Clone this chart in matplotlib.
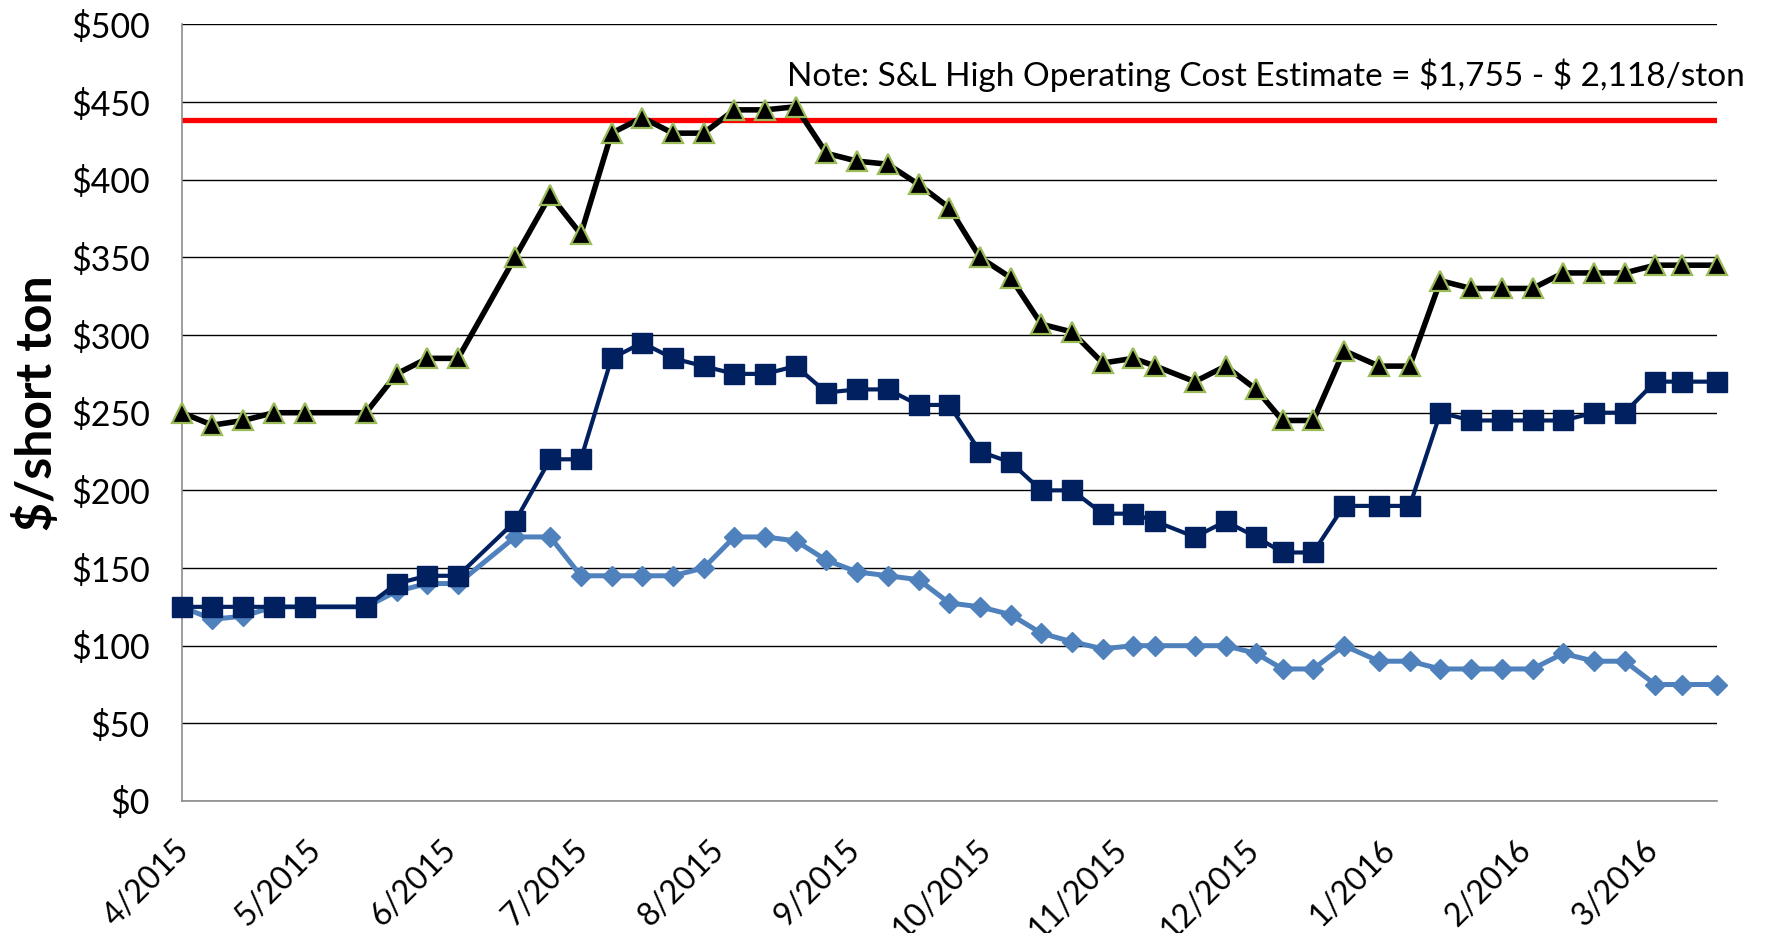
import matplotlib
matplotlib.use("Agg")
import matplotlib.pyplot as plt
import matplotlib.dates as mdates
from matplotlib.transforms import ScaledTranslation
import numpy as np

# ---- data -------------------------------------------------------------
dates = ["2015-04-03", "2015-04-10", "2015-04-17", "2015-04-24", "2015-05-01",
         "2015-05-15", "2015-05-22", "2015-05-29", "2015-06-05", "2015-06-18",
         "2015-06-26", "2015-07-03", "2015-07-10", "2015-07-17", "2015-07-24",
         "2015-07-31", "2015-08-07", "2015-08-14", "2015-08-21", "2015-08-28",
         "2015-09-04", "2015-09-11", "2015-09-18", "2015-09-25", "2015-10-02",
         "2015-10-09", "2015-10-16", "2015-10-23", "2015-10-30", "2015-11-06",
         "2015-11-11", "2015-11-20", "2015-11-27", "2015-12-04", "2015-12-10",
         "2015-12-17", "2015-12-24", "2016-01-01", "2016-01-08", "2016-01-15",
         "2016-01-22", "2016-01-29", "2016-02-05", "2016-02-12", "2016-02-19",
         "2016-02-26", "2016-03-04", "2016-03-10", "2016-03-18"]

high_price = [250, 242, 245, 250, 250, 250, 275, 285, 285, 350,
              390, 365, 430, 440, 430, 430, 445, 445, 447, 417,
              412, 410, 397, 382, 350, 337, 307, 302, 282, 285,
              280, 270, 280, 265, 245, 245, 290, 280, 280, 335,
              330, 330, 330, 340, 340, 340, 345, 345, 345]

mid_price = [125, 125, 125, 125, 125, 125, 140, 145, 145, 180,
             220, 220, 285, 295, 285, 280, 275, 275, 280, 263,
             265, 265, 255, 255, 225, 218, 200, 200, 185, 185,
             180, 170, 180, 170, 160, 160, 190, 190, 190, 250,
             245, 245, 245, 245, 250, 250, 270, 270, 270]

low_price = [125, 117, 119, 125, 125, 125, 135, 140, 140, 170,
             170, 145, 145, 145, 145, 150, 170, 170, 167.5, 155,
             147.5, 145, 142.5, 127.5, 125, 120, 108, 102.5, 98, 100,
             100, 100, 100, 95, 85, 85, 100, 90, 90, 85,
             85, 85, 85, 95, 90, 90, 75, 75, 75]

cost_estimate = 438.75   # $1,755/ston / 4
note_text = "Note: S&L High Operating Cost Estimate = $1,755 - $ 2,118/ston"
y_ticks = list(range(0, 501, 50))
y_label = "$/short ton"

# ---- plot ---------------------------------------------------------------
plt.rcParams['font.family'] = ['Lato', 'DejaVu Sans']

x = np.array(dates, dtype="datetime64[D]")

fig = plt.figure(figsize=(17.68, 9.33), dpi=100)
ax = fig.add_axes([0.1028, 0.1415, 0.971 - 0.1028, 0.9738 - 0.1415])

ax.set_ylim(0, 500)
ax.set_xlim(x[0], x[-1])
ax.set_yticks(y_ticks)
ax.set_yticklabels([f"${v}" for v in y_ticks])
ax.yaxis.grid(True, color="black", lw=1.0, zorder=0)
ax.set_axisbelow(True)

for s in ["top", "right"]:
    ax.spines[s].set_visible(False)
for s in ["left", "bottom"]:
    ax.spines[s].set_color("#8c8c8c")
    ax.spines[s].set_linewidth(1.2)

ax.axhline(cost_estimate, color="#ff0000", lw=3.8, zorder=2, solid_capstyle="round")

ax.plot(x, low_price, color="#4f81bd", lw=3.6, marker="D", ms=10,
        mfc="#4f81bd", mec="#4f81bd", zorder=3, clip_on=False)
ax.plot(x, mid_price, color="#002060", lw=3.0, marker="s", ms=14,
        mfc="#002060", mec="#002060", zorder=4, clip_on=False)
ax.plot(x, high_price, color="black", lw=4.0, marker="^", ms=14,
        mfc="black", mec="#9bbb59", mew=1.6, zorder=5, clip_on=False)

# monthly ticks
ticks = np.arange(np.datetime64("2015-04"), np.datetime64("2016-04"), dtype="datetime64[M]")
tick_dates = ticks.astype("datetime64[D]") + 2
ax.set_xticks(tick_dates)
ax.xaxis.set_major_formatter(mdates.DateFormatter("%-m/%Y"))
ax.tick_params(axis="x", length=0, labelsize=23, pad=24)
ax.tick_params(axis="y", length=0, labelsize=24.5, pad=23)
for lab in ax.get_xticklabels():
    lab.set_rotation(45)
    lab.set_ha("right")
    lab.set_va("top")
    lab.set_rotation_mode("anchor")
    lab.set_transform(lab.get_transform() + ScaledTranslation(-8 / 100, 0, fig.dpi_scale_trans))

fig.text(0.987, 1 - 75.5 / 933, note_text, ha="right", va="center", fontsize=24,
         parse_math=False)
fig.text(37 / 1768, 1 - 403 / 933, y_label, rotation=90, ha="center", va="center",
         fontsize=36, fontweight="bold", parse_math=False)

fig.savefig("out.png", dpi=100)
